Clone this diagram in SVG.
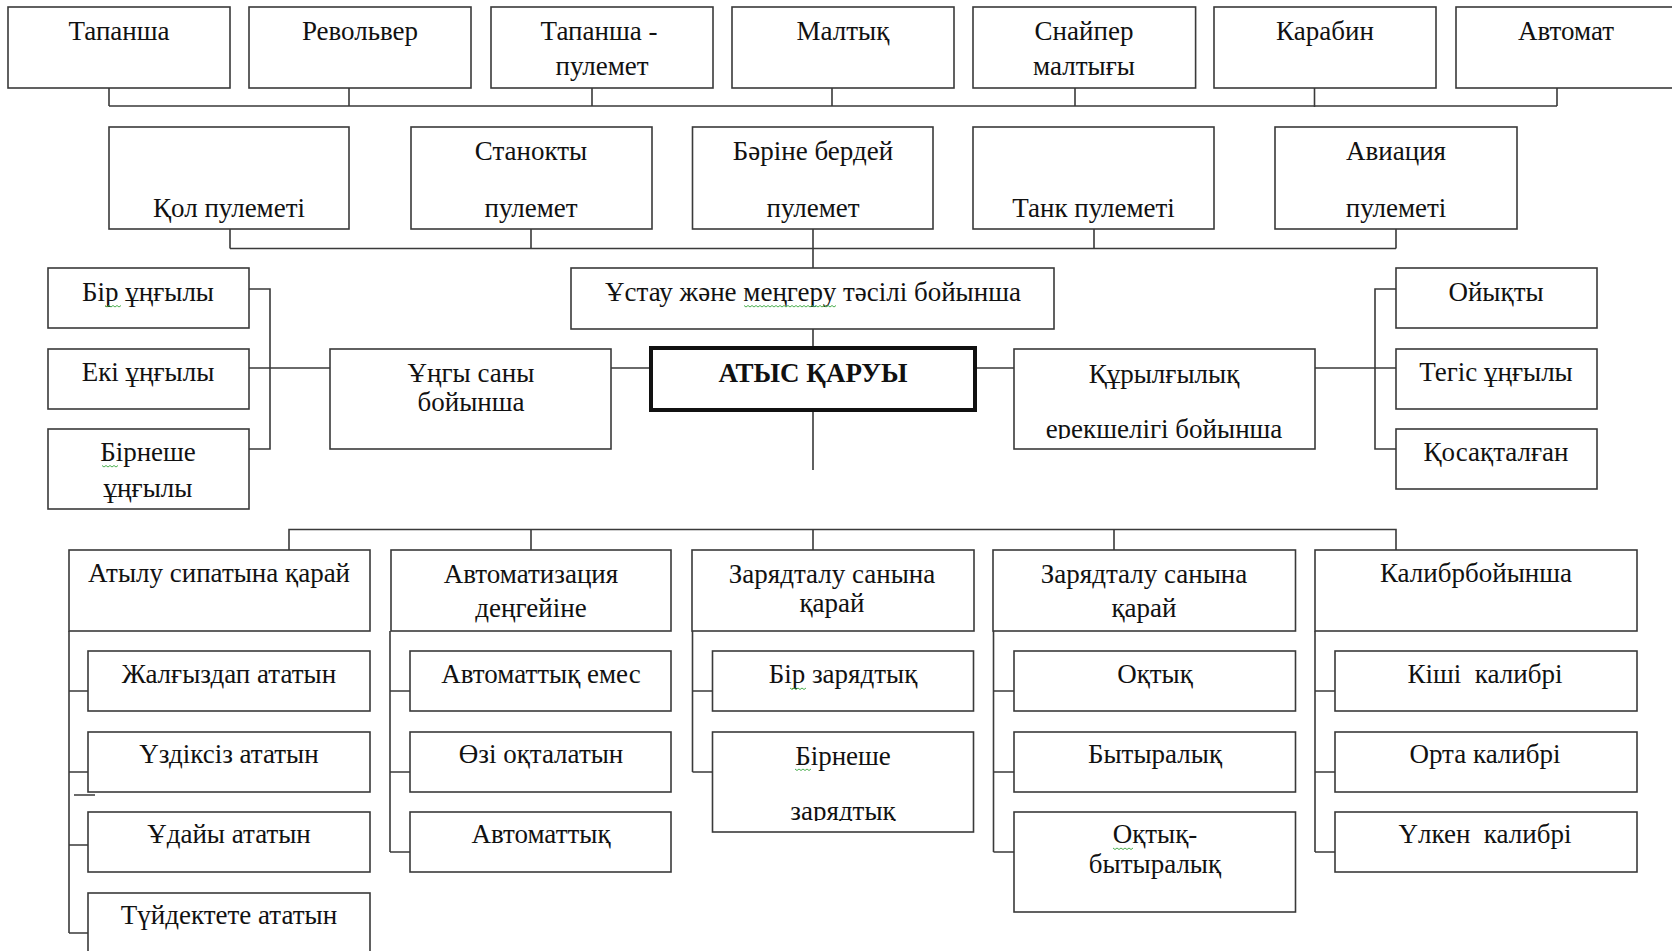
<svg xmlns="http://www.w3.org/2000/svg" width="1672" height="951" viewBox="0 0 1672 951">
<style>
.b{fill:#fff;stroke:#3a3a3a;stroke-width:1.6}
.bb{fill:#fff;stroke:#111;stroke-width:4}
.c{fill:none;stroke:#3a3a3a;stroke-width:1.6}
.w{fill:none;stroke:#4caf50;stroke-width:1}
text{font-family:"Liberation Serif","Times New Roman",serif;font-size:27px;fill:#111;text-anchor:middle}
.bold{font-weight:bold}
</style>
<defs>
<clipPath id="clipK"><rect x="1014" y="349" width="301" height="90"/></clipPath>
<clipPath id="clipZ"><rect x="712" y="732" width="262" height="89"/></clipPath>
</defs>
<rect width="1672" height="951" fill="#fff"/>
<g id="connectors">
<path class="c" d="M109 88V106M349 88V106M592 88V106M832 88V106M1075 88V106M1314.5 88V107M1557 88V106M109 106H1557"/>
<path class="c" d="M230 229V248.5M531 229V248.5M813 229V268M1094 229V248.5M1396 229V248.5M230 248.5H1396"/>
<path class="c" d="M813 329V348M813 410V470"/>
<path class="c" d="M611 368H651M249 289H270V449H249M249 368H330"/>
<path class="c" d="M975 368H1014M1315 368H1396M1396 289H1375V449H1396"/>
<path class="c" d="M289 550V529.5H1396V550M531 529.5V550M813 529.5V550M1114 529.5V550"/>
<path class="c" d="M69 631V933M69 691H88M69 772H88M69 845H88M69 933H88M74 795H95"/>
<path class="c" d="M390 631V852M390 691H410M390 772H410M390 852H410"/>
<path class="c" d="M692.5 631V772M692.5 691H712.5M692.5 772H712.5"/>
<path class="c" d="M993.5 631V852M993.5 691H1014M993.5 772H1014M993.5 852H1014"/>
<path class="c" d="M1315 631V852M1315 691H1335M1315 772H1335M1315 852H1335"/>
</g>
<g id="n-tapansha"><rect class="b" x="8" y="7" width="222" height="81"/><text x="119" y="40">Тапанша</text></g>
<g id="n-revolver"><rect class="b" x="249" y="7" width="222" height="81"/><text x="360" y="40">Револьвер</text></g>
<g id="n-tapansha-pulemet"><rect class="b" x="491" y="7" width="222" height="81"/><text x="599" y="40">Тапанша -</text><text x="602" y="75">пулемет</text></g>
<g id="n-maltyq"><rect class="b" x="732" y="7" width="222" height="81"/><text x="843" y="40">Малтық</text></g>
<g id="n-snaiper"><rect class="b" x="973" y="7" width="222.6" height="81"/><text x="1084" y="40">Снайпер</text><text x="1084" y="75">малтығы</text></g>
<g id="n-karabin"><rect class="b" x="1214" y="7" width="222" height="81"/><text x="1325" y="40">Карабин</text></g>
<g id="n-avtomat"><rect class="b" x="1456" y="7" width="240" height="81"/><text x="1566" y="40">Автомат</text></g>
<g id="n-qol"><rect class="b" x="109" y="127" width="240" height="102"/><text x="229" y="217">Қол пулеметі</text></g>
<g id="n-stanok"><rect class="b" x="411" y="127" width="241" height="102"/><text x="531" y="160">Станокты</text><text x="531" y="217">пулемет</text></g>
<g id="n-barine"><rect class="b" x="692.5" y="127" width="240.5" height="102"/><text x="813" y="160">Бәріне бердей</text><text x="813" y="217">пулемет</text></g>
<g id="n-tank"><rect class="b" x="973" y="127" width="241" height="102"/><text x="1093.5" y="217">Танк пулеметі</text></g>
<g id="n-aviacia"><rect class="b" x="1275" y="127" width="242" height="102"/><text x="1396" y="160">Авиация</text><text x="1396" y="217">пулеметі</text></g>
<g id="n-ustau"><rect class="b" x="571" y="268" width="483" height="61"/><text x="813" y="301">Ұстау және меңгеру тәсілі бойынша</text><path class="w" d="M744 305.5l2 1.5 2-1.5 2 1.5 2-1.5 2 1.5 2-1.5 2 1.5 2-1.5 2 1.5 2-1.5 2 1.5 2-1.5 2 1.5 2-1.5 2 1.5 2-1.5 2 1.5 2-1.5 2 1.5 2-1.5 2 1.5 2-1.5 2 1.5 2-1.5 2 1.5 2-1.5 2 1.5 2-1.5 2 1.5 2-1.5 2 1.5 2-1.5 2 1.5 2-1.5 2 1.5 2-1.5 2 1.5 2-1.5 2 1.5 2-1.5 2 1.5 2-1.5 2 1.5 2-1.5 2 1.5 2-1.5"/></g>
<g id="n-atys"><rect class="bb" x="651" y="348" width="324" height="62"/><text class="bold" x="813" y="382">АТЫС ҚАРУЫ</text></g>
<g id="n-ungy"><rect class="b" x="330" y="349" width="281" height="100"/><text x="471" y="382">Ұңгы саны</text><text x="471" y="411">бойынша</text></g>
<g id="n-bir-ung"><rect class="b" x="48" y="268" width="201" height="60"/><text x="148" y="301">Бір ұңғылы</text><path class="w" d="M105 305.5l2 1.5 2-1.5 2 1.5 2-1.5 2 1.5 2-1.5 2 1.5 2-1.5"/></g>
<g id="n-eki-ung"><rect class="b" x="48" y="349" width="201" height="60"/><text x="148" y="381">Екі ұңғылы</text></g>
<g id="n-birneshe-ung"><rect class="b" x="48" y="429" width="201" height="80"/><text x="148" y="461">Бірнеше</text><text x="148" y="497">ұңғылы</text><path class="w" d="M102 465.5l2 1.5 2-1.5 2 1.5 2-1.5 2 1.5 2-1.5 2 1.5 2-1.5"/></g>
<g id="n-qurylgy"><rect class="b" x="1014" y="349" width="301" height="100"/><text x="1164" y="383">Құрылғылық</text><text x="1164" y="438" clip-path="url(#clipK)">ерекшелігі бойынша</text></g>
<g id="n-oiyqty"><rect class="b" x="1396" y="268" width="201" height="60"/><text x="1496" y="301">Ойықты</text></g>
<g id="n-tegis"><rect class="b" x="1396" y="349" width="201" height="60"/><text x="1496" y="381">Тегіс ұңғылы</text></g>
<g id="n-qosaq"><rect class="b" x="1396" y="429" width="201" height="60"/><text x="1496" y="461">Қосақталған</text></g>
<g id="n-atylu"><rect class="b" x="69" y="550" width="301" height="81"/><text x="219" y="582">Атылу сипатына қарай</text></g>
<g id="n-avtomatizacia"><rect class="b" x="391" y="550" width="280" height="81"/><text x="531" y="583">Автоматизация</text><text x="531" y="617">деңгейіне</text></g>
<g id="n-zar1"><rect class="b" x="692" y="550" width="282" height="81"/><text x="832" y="583">Зарядталу санына</text><text x="832" y="612">қарай</text></g>
<g id="n-zar2"><rect class="b" x="993" y="550" width="302.5" height="81"/><text x="1144" y="583">Зарядталу санына</text><text x="1144" y="617">қарай</text></g>
<g id="n-kalibr"><rect class="b" x="1315" y="550" width="322" height="81"/><text x="1476" y="582">Калибрбойынша</text></g>
<g id="n-zhalgyz"><rect class="b" x="88" y="651" width="282" height="60"/><text x="229" y="683">Жалғыздап ататын</text></g>
<g id="n-uzdiksiz"><rect class="b" x="88" y="732" width="282" height="60"/><text x="229" y="763">Үздіксіз ататын</text></g>
<g id="n-udaiy"><rect class="b" x="88" y="812" width="282" height="60"/><text x="229" y="843">Ұдайы ататын</text></g>
<g id="n-tuidektete"><rect class="b" x="88" y="893" width="282" height="80"/><text x="229" y="924">Түйдектете ататын</text></g>
<g id="n-avt-emes"><rect class="b" x="410" y="651" width="261" height="60"/><text x="541" y="683">Автоматтық емес</text></g>
<g id="n-ozi"><rect class="b" x="410" y="732" width="261" height="60"/><text x="541" y="763">Өзі оқталатын</text></g>
<g id="n-avt"><rect class="b" x="410" y="812" width="261" height="60"/><text x="541" y="843">Автоматтық</text></g>
<g id="n-bir-zar"><rect class="b" x="712.5" y="651" width="261" height="60"/><text x="843" y="683">Бір зарядтық</text><path class="w" d="M790 688l2 1.5 2-1.5 2 1.5 2-1.5 2 1.5 2-1.5 2 1.5 2-1.5"/></g>
<g id="n-birneshe-zar"><rect class="b" x="712.5" y="732" width="261" height="100"/><text x="843" y="765">Бірнеше</text><text x="843" y="820" clip-path="url(#clipZ)">зарядтық</text><path class="w" d="M795 769l2 1.5 2-1.5 2 1.5 2-1.5 2 1.5 2-1.5 2 1.5 2-1.5"/></g>
<g id="n-oqtyq"><rect class="b" x="1014" y="651" width="281.5" height="60"/><text x="1155" y="683">Оқтық</text></g>
<g id="n-bytyr"><rect class="b" x="1014" y="732" width="281.5" height="60"/><text x="1155" y="763">Бытыралық</text></g>
<g id="n-oqtyq-bytyr"><rect class="b" x="1014" y="812" width="281.5" height="100"/><text x="1155" y="843">Оқтық-</text><text x="1155" y="873">бытыралық</text><path class="w" d="M1113 848l2 1.5 2-1.5 2 1.5 2-1.5 2 1.5 2-1.5 2 1.5 2-1.5 2 1.5 2-1.5"/></g>
<g id="n-kishi"><rect class="b" x="1335" y="651" width="302" height="60"/><text x="1485" y="683" xml:space="preserve">Кіші  калибрі</text></g>
<g id="n-orta"><rect class="b" x="1335" y="732" width="302" height="60"/><text x="1485" y="763">Орта калибрі</text></g>
<g id="n-ulken"><rect class="b" x="1335" y="812" width="302" height="60"/><text x="1485" y="843" xml:space="preserve">Үлкен  калибрі</text></g>
</svg>
